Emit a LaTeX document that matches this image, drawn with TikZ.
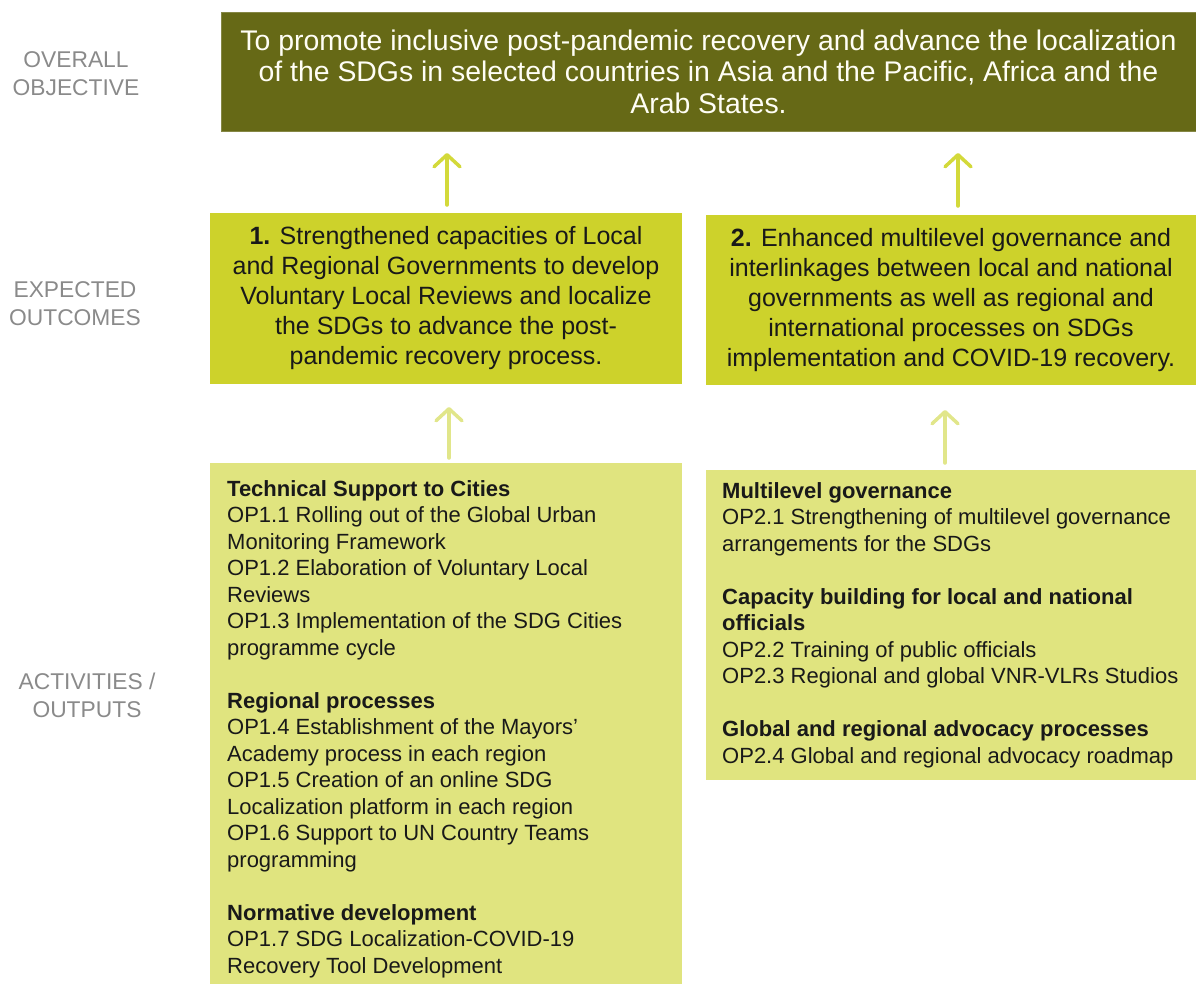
\documentclass[tikz,border=0pt]{standalone}
\usepackage{fontspec}
\setmainfont{Liberation Sans}
\usetikzlibrary{arrows.meta}
\definecolor{objfill}{HTML}{666916}
\definecolor{outfill}{HTML}{CDD22B}
\definecolor{actfill}{HTML}{E0E47F}
\definecolor{uparrcol}{HTML}{D3D93A}
\definecolor{lowarrcol}{HTML}{E1E68A}
\definecolor{labelgray}{HTML}{8A8A8A}
\tikzset{
  objbox/.style={fill=objfill, draw=objfill!80!white, line width=0.8pt, anchor=north west, inner sep=0pt, outer sep=0pt,
    text=white!96!yellow, align=center, font=\fontsize{28.4}{31.5}\selectfont},
  outbox/.style={fill=outfill, draw=none, anchor=north west, inner sep=0pt, outer sep=0pt,
    text=black!90, align=center, font=\fontsize{25}{30}\selectfont},
  actbox/.style={fill=actfill, draw=none, anchor=north west, inner sep=0pt, outer sep=0pt},
  acttext/.style={anchor=north west, inner sep=0pt, align=left, text=black!90,
    font=\fontsize{22}{26.5}\selectfont},
  rowlabel/.style={text=labelgray, align=center, font=\fontsize{22.8}{28}\selectfont},
  uparr/.style={draw=uparrcol, line width=3.5pt, line cap=round,
    -{Straight Barb[length=12pt,width=26pt,round]}},
  lowarr/.style={draw=lowarrcol, line width=3.5pt, line cap=round,
    -{Straight Barb[length=12pt,width=26pt,round]}},
}
\newcommand{\gap}{\\[26.5pt]}
\begin{document}
\begin{tikzpicture}[x=1pt,y=-1pt]
\useasboundingbox (0,0) rectangle (1196,983);

% row labels
\node[rowlabel] (lobj) at (76,74) {OVERALL\\OBJECTIVE};
\node[rowlabel] (lout) at (75,303.5) {EXPECTED\\OUTCOMES};
\node[rowlabel] (lact) at (87,695.5) {ACTIVITIES /\\OUTPUTS};

% overall objective
\node[objbox, minimum width=975pt, minimum height=119pt] (obj) at (221,12)
  {To promote inclusive post-pandemic recovery and advance the localization\\
   of the SDGs in selected countries in Asia and the Pacific, Africa and the\\
   Arab States.};

% expected outcomes
\node[outbox, minimum width=472pt, minimum height=171pt] (b1) at (210,213)
  {\textbf{1.} Strengthened capacities of Local\\
   and Regional Governments to develop\\
   Voluntary Local Reviews and localize\\
   the SDGs to advance the post-\\
   pandemic recovery process.};
\node[outbox, minimum width=490pt, minimum height=170pt] (b2) at (706,215)
  {\textbf{2.} Enhanced multilevel governance and\\
   interlinkages between local and national\\
   governments as well as regional and\\
   international processes on SDGs\\
   implementation and COVID-19 recovery.};

% activities / outputs
\node[actbox, minimum width=472pt, minimum height=521pt] (b3) at (210,463) {};
\node[actbox, minimum width=490pt, minimum height=310pt] (b4) at (706,470) {};

\node[acttext] (t3) at ([shift={(17pt,-17pt)}]b3.north west)
  {\textbf{Technical Support to Cities}\\
   OP1.1 Rolling out of the Global Urban\\
   Monitoring Framework\\
   OP1.2 Elaboration of Voluntary Local\\
   Reviews\\
   OP1.3 Implementation of the SDG Cities\\
   programme cycle\gap
   \textbf{Regional processes}\\
   OP1.4 Establishment of the Mayors’\\
   Academy process in each region\\
   OP1.5 Creation of an online SDG\\
   Localization platform in each region\\
   OP1.6 Support to UN Country Teams\\
   programming\gap
   \textbf{Normative development}\\
   OP1.7 SDG Localization-COVID-19\\
   Recovery Tool Development};

\node[acttext] (t4) at ([shift={(16pt,-12pt)}]b4.north west)
  {\textbf{Multilevel governance}\\
   OP2.1 Strengthening of multilevel governance\\
   arrangements for the SDGs\gap
   \textbf{Capacity building for local and national}\\
   \textbf{officials}\\
   OP2.2 Training of public officials\\
   OP2.3 Regional and global VNR-VLRs Studios\gap
   \textbf{Global and regional advocacy processes}\\
   OP2.4 Global and regional advocacy roadmap};

% arrows between levels
\draw[uparr, shorten <=8pt, shorten >=22pt] ([xshift=1pt]b1.north) -- ([xshift=1pt]b1.north |- obj.south);
\draw[uparr, shorten <=9pt, shorten >=22pt] ([xshift=7pt]b2.north) -- ([xshift=7pt]b2.north |- obj.south);
\draw[lowarr, shorten <=5pt, shorten >=23pt] ([xshift=3pt]b3.north) -- ([xshift=3pt]b3.north |- b1.south);
\draw[lowarr, shorten <=7pt, shorten >=25pt] ([xshift=-6pt]b4.north) -- ([xshift=-6pt]b4.north |- b2.south);
\end{tikzpicture}
\end{document}
